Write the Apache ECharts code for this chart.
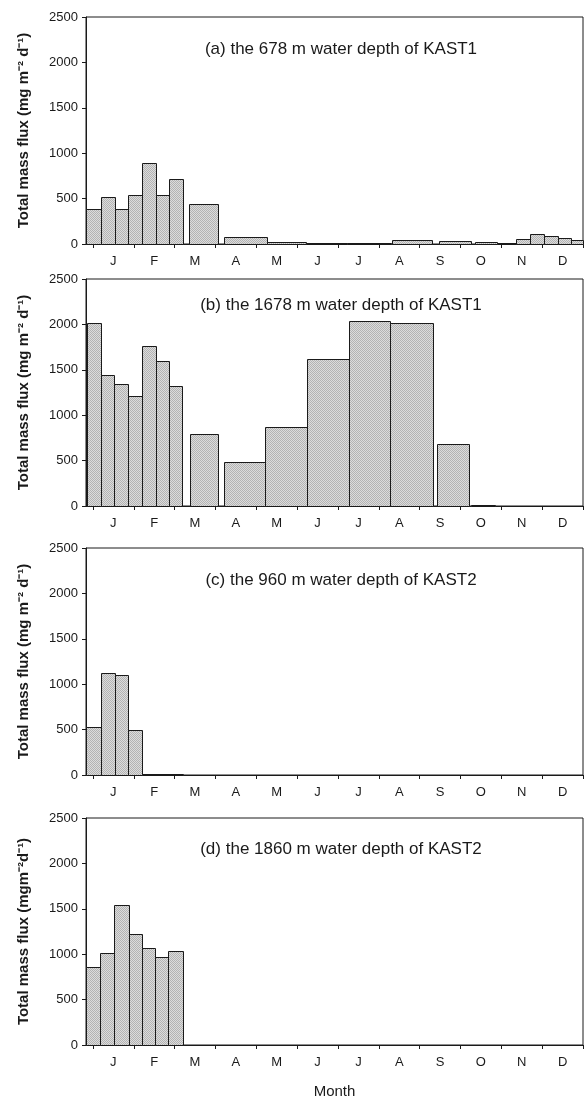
<!DOCTYPE html>
<html>
<head>
<meta charset="utf-8">
<script src="https://cdn.jsdelivr.net/npm/echarts@6/dist/echarts.min.js"></script>
<style>
  html, body { margin: 0; padding: 0; background: #fff; }
  #chart { width: 584px; height: 1100px; }
</style>
</head>
<body>
<div id="chart"></div>
<script>
// ---- data (x in month units: 0 = 1 Jan, 12 = 31 Dec) ----
const MONTHS = ['J','F','M','A','M','J','J','A','S','O','N','D'];
const MONTH_EDGES = [0,1,2,3,4,5,6,7,8,9,10,11,12];
const MONTH_MID = [0.5,1.5,2.5,3.5,4.5,5.5,6.5,7.5,8.5,9.5,10.5,11.5];
const Y_TICKS = [0, 500, 1000, 1500, 2000, 2500];

const TITLES = [
  '(a) the 678 m water depth of KAST1',
  '(b) the 1678 m water depth of KAST1',
  '(c) the 960 m water depth of KAST2',
  '(d) the 1860 m water depth of KAST2'
];
const Y_NAMES = [
  'Total mass flux (mg m\u207B\u00B2 d\u207B\u00B9)',
  'Total mass flux (mg m\u207B\u00B2 d\u207B\u00B9)',
  'Total mass flux (mg m\u207B\u00B2 d\u207B\u00B9)',
  'Total mass flux (mgm\u207B\u00B2d\u207B\u00B9)'
];

// (a) 678 m, KAST1
const A_START = [-0.17, 0.19, 0.54, 0.85, 1.20, 1.55, 1.87, 2.36, 3.21, 4.25, 5.22, 6.22, 7.33, 8.48, 9.35, 9.90, 10.36, 10.69, 11.04, 11.38, 11.71];
const A_END   = [ 0.19, 0.54, 0.85, 1.20, 1.55, 1.87, 2.20, 3.07, 4.25, 5.22, 6.22, 7.30, 8.31, 9.25, 9.90, 10.36, 10.69, 11.04, 11.38, 11.71, 12.00];
const A_FLUX  = [ 380,  520,  385,  538,  893,  535,  711,  440,   75,   22,   12,   12,   40,   38,   22,   12,    50,   115,    90,    70,    40];

// (b) 1678 m, KAST1
const B_START = [-0.15, 0.19, 0.52, 0.87, 1.21, 1.54, 1.86, 2.37, 3.20, 4.22, 5.25, 6.26, 7.28, 8.42, 9.26];
const B_END   = [ 0.19, 0.52, 0.87, 1.21, 1.54, 1.86, 2.19, 3.06, 4.22, 5.25, 6.26, 7.28, 8.32, 9.20, 9.84];
const B_FLUX  = [ 2015, 1444, 1344, 1208, 1766, 1601, 1322,  788,  488,  875, 1615, 2035, 2015,  680,   15];

// (c) 960 m, KAST2
const C_START = [-0.16, 0.19, 0.53, 0.87, 1.21];
const C_END   = [ 0.19, 0.53, 0.87, 1.21, 2.20];
const C_FLUX  = [  524, 1128, 1102,  498,    6];

// (d) 1860 m, KAST2
const D_START = [-0.16, 0.18, 0.51, 0.88, 1.20, 1.53, 1.85];
const D_END   = [ 0.18, 0.51, 0.88, 1.20, 1.53, 1.85, 2.21];
const D_FLUX  = [  856, 1009, 1539, 1227, 1063,  968, 1037];

// ---- build ----
const PANELS = [
  [A_START, A_END, A_FLUX],
  [B_START, B_END, B_FLUX],
  [C_START, C_END, C_FLUX],
  [D_START, D_END, D_FLUX]
];
const GRID_TOPS = [17, 279, 548, 818];
const TITLE_TOPS = [36, 292, 567, 836];
const GRID_H = 227;
const FONT = '"Liberation Sans", Arial, sans-serif';
const INK = '#1a1a1a';

// stipple texture for bars
const pat = document.createElement('canvas');
pat.width = 2; pat.height = 2;
const pctx = pat.getContext('2d');
pctx.fillStyle = '#dcdcdc'; pctx.fillRect(0, 0, 2, 2);
pctx.fillStyle = '#b3b3b3'; pctx.fillRect(0, 0, 1, 1); pctx.fillRect(1, 1, 1, 1);

function renderItem(params, api) {
  const x0 = api.value(0), x1 = api.value(1), v = api.value(2);
  const p0 = api.coord([x0, v]);
  const p1 = api.coord([x1, 0]);
  const l = Math.round(p0[0]) + 0.5, r = Math.round(p1[0]) + 0.5;
  const t = Math.round(p0[1]) + 0.5, b = Math.round(p1[1]) + 0.5;
  return {
    type: 'rect',
    shape: { x: l, y: t, width: r - l, height: b - t },
    style: { fill: { image: pat, repeat: 'repeat' }, stroke: INK, lineWidth: 1 }
  };
}

const grid = [], xAxis = [], yAxis = [], series = [], title = [];
PANELS.forEach((p, i) => {
  grid.push({ left: 86, width: 497, top: GRID_TOPS[i], height: GRID_H,
    show: true, borderColor: INK, borderWidth: 1, backgroundColor: 'transparent' });
  xAxis.push({
    type: 'value', gridIndex: i, min: -0.17, max: 12,
    splitLine: { show: false },
    axisLine: { show: true, onZero: false, lineStyle: { color: INK, width: 1 } },
    axisTick: { show: true, customValues: MONTH_EDGES, length: 4, lineStyle: { color: INK } },
    axisLabel: { show: true, customValues: MONTH_MID, margin: 11,
      formatter: v => MONTHS[Math.round(v - 0.5)],
      fontFamily: FONT, fontSize: 13, color: INK },
    name: i === 3 ? 'Month' : '', nameLocation: 'middle', nameGap: 39,
    nameTextStyle: { fontFamily: FONT, fontSize: 15, color: INK }
  });
  yAxis.push({
    type: 'value', gridIndex: i, min: Y_TICKS[0], max: Y_TICKS[Y_TICKS.length - 1], interval: 500,
    splitLine: { show: false },
    axisLine: { show: true, onZero: false, lineStyle: { color: INK, width: 1 } },
    axisTick: { show: true, length: 4, lineStyle: { color: INK } },
    axisLabel: { margin: 8, fontFamily: FONT, fontSize: 13, color: INK, formatter: v => String(v) },
    name: Y_NAMES[i], nameLocation: 'middle', nameGap: 55, nameRotate: 90,
    nameTextStyle: { fontFamily: FONT, fontSize: 15, fontWeight: 'bold', color: INK }
  });
  series.push({
    type: 'custom', xAxisIndex: i, yAxisIndex: i,
    renderItem: renderItem,
    encode: { x: [0, 1], y: 2 },
    data: p[0].map((s, k) => [s, p[1][k], p[2][k]]),
    silent: true, animation: false
  });
  title.push({ text: TITLES[i], left: 336, top: TITLE_TOPS[i], textAlign: 'center',
    textStyle: { fontFamily: FONT, fontSize: 17, fontWeight: 'normal', color: INK } });
});

const chart = echarts.init(document.getElementById('chart'), null, { renderer: 'canvas' });
chart.setOption({ animation: false, backgroundColor: '#fff', title, grid, xAxis, yAxis, series });
</script>
</body>
</html>
